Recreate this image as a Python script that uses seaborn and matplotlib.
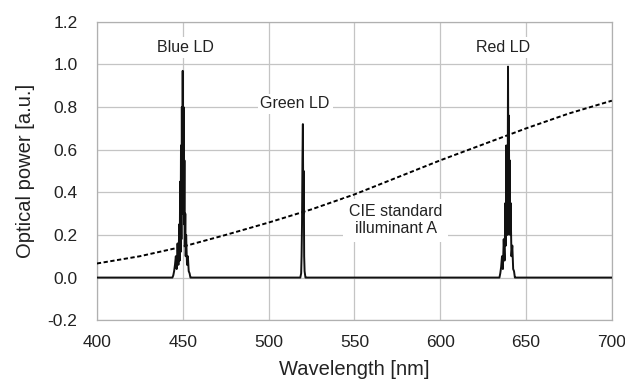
import numpy as np
import pandas as pd
import matplotlib
matplotlib.use("Agg")
import matplotlib.pyplot as plt
import seaborn as sns

# CIE standard illuminant A
cie_wl = [400, 425, 450, 475, 500, 525, 550, 575, 600, 625, 650, 675, 700]
cie_pw = [0.066, 0.10, 0.145, 0.20, 0.258, 0.32, 0.39, 0.47, 0.55, 0.625, 0.70, 0.77, 0.83]

# Blue LD spectrum
blue_wl = [444.0, 444.5, 445.0, 445.5, 446.0, 446.5, 447.0, 447.5, 448.0, 448.25, 448.5, 448.75,
           449.0, 449.25, 449.5, 449.75, 450.0, 450.25, 450.5, 450.75, 451.0, 451.25, 451.5,
           451.75, 452.0, 452.5, 453.0, 453.5, 454.0, 454.5, 455.0]
blue_pw = [0.0, 0.01, 0.03, 0.06, 0.10, 0.04, 0.16, 0.06, 0.25, 0.08, 0.45, 0.12,
           0.62, 0.18, 0.80, 0.30, 0.97, 0.40, 0.80, 0.25, 0.55, 0.15, 0.30, 0.10,
           0.20, 0.06, 0.10, 0.03, 0.02, 0.0, 0.0]

# Green LD spectrum
green_wl = [518.5, 519.0, 519.25, 519.5, 519.75, 520.0, 520.25, 520.5, 520.75, 521.0, 521.5, 522.0]
green_pw = [0.0, 0.02, 0.10, 0.25, 0.55, 0.72, 0.30, 0.50, 0.10, 0.03, 0.0, 0.0]

# Red LD spectrum
red_wl = [634.5, 635.0, 635.5, 636.0, 636.5, 637.0, 637.5, 638.0, 638.25, 638.5, 638.75, 639.0,
          639.25, 639.5, 639.75, 640.0, 640.25, 640.5, 640.75, 641.0, 641.5, 642.0, 642.5,
          643.0, 643.5, 644.0]
red_pw = [0.0, 0.02, 0.05, 0.10, 0.04, 0.18, 0.08, 0.35, 0.15, 0.62, 0.30, 0.50,
          0.20, 0.99, 0.40, 0.76, 0.30, 0.55, 0.20, 0.35, 0.10, 0.15, 0.04, 0.03, 0.0, 0.0]

x_ticks = [400, 450, 500, 550, 600, 650, 700]
y_ticks = [-0.2, 0.0, 0.2, 0.4, 0.6, 0.8, 1.0, 1.2]

spec_wl = [400.0] + blue_wl + green_wl + red_wl + [700.0]
spec_pw = [0.0] + blue_pw + green_pw + red_pw + [0.0]
spec = pd.DataFrame({"wl": spec_wl, "pw": spec_pw})
cie = pd.DataFrame({"wl": cie_wl, "pw": cie_pw})

sns.set_theme(style="white")
plt.rcParams["font.family"] = ["Liberation Sans", "DejaVu Sans"]

fig = plt.figure(figsize=(6.25, 3.83), dpi=100)
ax = fig.add_axes([0.155, 0.164, 0.824, 0.779])

for x in x_ticks:
    ax.axvline(x, color="#c4c4c4", lw=0.9, zorder=0)
for y in y_ticks:
    ax.axhline(y, color="#c4c4c4", lw=0.9, zorder=0)

sns.lineplot(data=cie, x="wl", y="pw", ax=ax, color="black", lw=1.4,
             linestyle=(0, (2.2, 1.3)), sort=False, zorder=3)
sns.lineplot(data=spec, x="wl", y="pw", ax=ax, color="#111111", lw=1.4,
             sort=False, estimator=None, zorder=4)

ax.set_xlim(400, 700)
ax.set_ylim(-0.2, 1.2)
ax.set_xticks(x_ticks)
ax.set_yticks(y_ticks)
ax.set_yticklabels([f"{v:.1f}" for v in y_ticks])
ax.tick_params(axis="y", labelsize=12.5, colors="#222222", length=0, pad=14)
ax.tick_params(axis="x", labelsize=12.5, colors="#222222", length=0, pad=11)
ax.set_xlabel("Wavelength [nm]", fontsize=14.5, color="#222222", labelpad=7)
ax.set_ylabel("Optical power [a.u.]", fontsize=14.5, color="#222222", labelpad=9)
for s in ax.spines.values():
    s.set_color("#b0b0b0")
    s.set_linewidth(0.9)

box = dict(facecolor="white", edgecolor="none", pad=2)
ax.text(451.5, 1.08, "Blue LD", ha="center", va="center", fontsize=11.5, color="#222222", bbox=box, zorder=5)
ax.text(515.5, 0.815, "Green LD", ha="center", va="center", fontsize=11.5, color="#222222", bbox=box, zorder=5)
ax.text(636.5, 1.08, "Red LD", ha="center", va="center", fontsize=11.5, color="#222222", bbox=box, zorder=5)
ax.text(574, 0.27, "CIE standard\nilluminant A", ha="center", va="center", fontsize=11.5,
        color="#222222", bbox=dict(facecolor="white", edgecolor="none", pad=4), zorder=5, linespacing=1.15)

fig.savefig("out.png", dpi=100)
